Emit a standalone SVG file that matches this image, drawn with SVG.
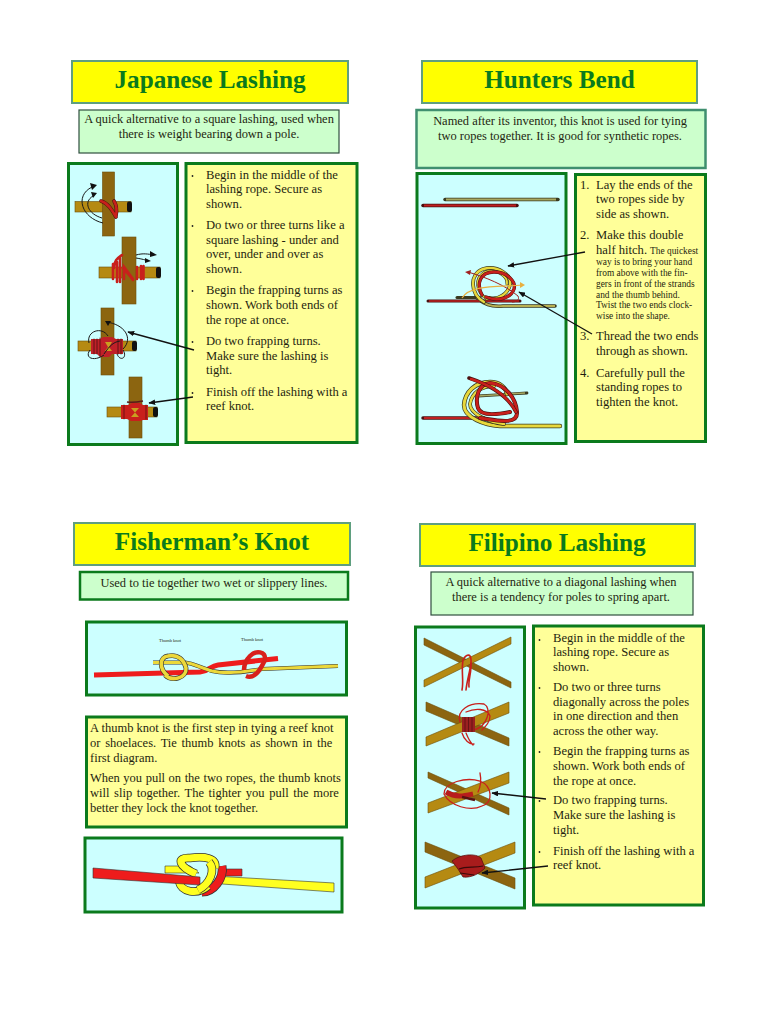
<svg xmlns="http://www.w3.org/2000/svg" width="768" height="1024" viewBox="0 0 768 1024">
<style>
text{font-family:"Liberation Serif","Times New Roman",serif;fill:#1f1f10}
.t{font-size:25.200px;font-weight:bold;fill:#0a7a1e;text-anchor:middle}
.b{font-size:12.600px}
.j{font-size:12.500px}
.s{font-size:9.400px}
.c{font-size:12.450px;text-anchor:middle}
.ttl{fill:#ffff00;stroke:#5f9f7f;stroke-width:2}
.note{fill:#ccffcc;stroke:#2f4f3f;stroke-width:1.2}
.pic{fill:#ccffff;stroke:#0b7a1c;stroke-width:3}
.txt{fill:#ffff99;stroke:#0b7a1c;stroke-width:3}
.pole{fill:#b58a12;stroke:#6b4e0a;stroke-width:.6}
.poled{fill:#8c6510;stroke:#6b4e0a;stroke-width:.6}
.end{fill:#111}
.dot{fill:#222}
.r{fill:none;stroke:#c8201c;stroke-linecap:round}
.ro{fill:none;stroke:#4a1010;stroke-linecap:round}
.y{fill:none;stroke:#e8d83c;stroke-linecap:round}
.yo{fill:none;stroke:#3a3a20;stroke-linecap:round}
.yb{fill:none;stroke:#ffff20}
.rb{fill:none;stroke:#ee1c1c}
.lo{fill:none;stroke:#333}
.k{fill:none;stroke:#1a1a1a;stroke-width:1}
.a{fill:none;stroke:#111;stroke-width:1.3;marker-end:url(#ah)}
</style>
<defs>
<marker id="ah" viewBox="0 0 10 8" refX="9" refY="4" markerWidth="7" markerHeight="5.5" orient="auto-start-reverse" markerUnits="userSpaceOnUse"><path d="M0 0L10 4L0 8Z" fill="#111"/></marker>
</defs>
<rect width="768" height="1024" fill="#fff"/>

<g id="japanese-lashing">
<rect class="ttl" x="72" y="61" width="276" height="42"/>
<text class="t" x="210" y="87.700">Japanese Lashing</text>
<rect class="note" x="79" y="110" width="260" height="43"/>
<text class="c" x="209" y="123">A quick alternative to a square lashing, used when</text>
<text class="c" x="209" y="138">there is weight bearing down a pole.</text>
<rect class="pic" x="68.500" y="163.500" width="109" height="281"/>
<rect class="txt" x="186" y="163.500" width="171" height="279"/>
<g id="jl-drawing">
<rect class="pole" x="75" y="201.500" width="56" height="10.500"/><rect class="end" x="127" y="201.500" width="5" height="10.500" rx="2"/>
<rect class="poled" x="102.500" y="172" width="12" height="64"/>
<path class="ro" stroke-width="3.600" d="M101 201C108 203 112 210 116 217M114 201C117 206 117 211 116 216"/>
<path class="r" stroke-width="2.600" d="M101 201C108 203 112 210 116 217M114 201C117 206 117 211 116 216"/>
<path class="k" d="M103 223C82 218 74 196 92 187M102 218C88 214 83 202 93 196"/>
<path d="M90 183l7 2-5 5zM91 192l6 1-4 5z" fill="#111"/>
<rect class="pole" x="99" y="267" width="61" height="11"/><rect class="end" x="156" y="267" width="5" height="11" rx="2"/>
<rect class="poled" x="122" y="237" width="14" height="67"/>
<path class="r" stroke-width="2.600" d="M114 268C114 260 118 258 122 255M113 264V279M117 262V282M120 258V282M123 268C126 272 130 275 133 280M124 279V267L133 279M137 267V279M141 266V279M143.500 266V279"/>
<path class="k" d="M136 255C143 253 148 254 154 255M136 258C142 259 146 260 148 261"/>
<path d="M150 251l7 4-7 2zM145 258l6 3-6 2z" fill="#111"/>
<rect class="pole" x="78" y="341" width="58" height="10"/><rect class="end" x="132" y="341" width="5" height="10" rx="2"/>
<rect class="poled" x="101" y="308" width="13" height="67"/>
<path d="M91 339H100L103 337H112L116 339H123V354H112L109 357H100L97 354H91Z" fill="#c02028"/>
<path d="M105 342L112 342 109 347 112 351 105 351 108 347Z" fill="#c9a020"/>
<path class="ro" stroke-width=".8" d="M94 339V354M97 339V354M100 338V356M118 339V354M121 339V354"/>
<path class="k" d="M89 343C86 331 102 326 108 336M106 322C124 324 134 338 123 349M117 354C120 362 128 358 123 350M90 350C84 358 94 362 104 355M104 354C110 345 114 342 120 341"/>
<path d="M105 321l6 0-3 5z" fill="#111"/>
<rect class="pole" x="107" y="407" width="50" height="10"/><rect class="end" x="153" y="407" width="5" height="10" rx="2"/>
<rect class="poled" x="129" y="377" width="13" height="61"/>
<path d="M121 405H128L132 403H140L143 405H148V420H143L140 421H131L127 419H121Z" fill="#c8201c"/>
<path d="M131 408H139L135 412.500ZM131 417H139L135 412.500Z" fill="#c9a020"/>
<path class="ro" stroke-width=".7" d="M124 405V419M146 405V419"/>
<path d="M127 402C133 403 138 402 143 401" fill="none" stroke="#5a1a1a" stroke-width="1.500"/>
</g>
<g id="jl-connectors">
<path class="a" d="M194 350L128 332"/>
<path class="a" d="M193 397L149 403"/>
</g>
<circle class="dot" cx="192.500" cy="176" r=".9"/><circle class="dot" cx="192.500" cy="226" r=".9"/><circle class="dot" cx="192.500" cy="291" r=".9"/><circle class="dot" cx="192.500" cy="342" r=".9"/><circle class="dot" cx="192.500" cy="393" r=".9"/>
<g class="b">
<text x="206" y="179">Begin in the middle of the</text>
<text x="206" y="193">lashing rope. Secure as</text>
<text x="206" y="208">shown.</text>
<text x="206" y="229">Do two or three turns like a</text>
<text x="206" y="244">square lashing - under and</text>
<text x="206" y="258">over, under and over as</text>
<text x="206" y="273">shown.</text>
<text x="206" y="294">Begin the frapping turns as</text>
<text x="206" y="309">shown. Work both ends of</text>
<text x="206" y="324">the rope at once.</text>
<text x="206" y="345">Do two frapping turns.</text>
<text x="206" y="360">Make sure the lashing is</text>
<text x="206" y="374">tight.</text>
<text x="206" y="396">Finish off the lashing with a</text>
<text x="206" y="410">reef knot.</text>
</g>
</g>

<g id="hunters-bend">
<rect class="ttl" x="422" y="61" width="275" height="42"/>
<text class="t" x="559.500" y="87.700">Hunters Bend</text>
<rect x="416.500" y="110" width="289" height="58" fill="#ccffcc" stroke="#3f8f6f" stroke-width="2.500"/>
<text class="c" x="560" y="125">Named after its inventor, this knot is used for tying</text>
<text class="c" x="560" y="140">two ropes together. It is good for synthetic ropes.</text>
<rect class="pic" x="417" y="173.500" width="149" height="270"/>
<rect class="txt" x="575.500" y="174.500" width="130" height="267"/>
<g id="hb-drawing">
<path d="M445 199.500H558" class="yo" stroke-width="3.500"/><path d="M446 199.500H556" stroke="#a8a860" stroke-width="1.800"/>
<path d="M423 205.500H517" class="ro" stroke-width="3.500"/><path d="M424 205.500H516" stroke="#c02020" stroke-width="1.800"/>
<path d="M457 297.500H480" class="yo" stroke-width="3"/>
<path d="M477 298C484 304 490 307 503 306H555" class="yo" stroke-width="3.600"/>
<path d="M477 298C484 304 490 307 503 306H555" fill="none" stroke="#b8b050" stroke-width="2"/>
<path d="M428 301H520" class="ro" stroke-width="3"/><path d="M429 301H519" stroke="#c02020" stroke-width="1.600"/>
<g id="hb-mid-ring">
<path class="yo" stroke-width="3.800" d="M484 302C470 294 469 274 483 269C498 265 512 275 510 285C508 294 498 300 490 298"/>
<path class="y" stroke-width="2.400" d="M484 302C470 294 469 274 483 269C498 265 512 275 510 285C508 294 498 300 490 298"/>
<path class="yo" stroke-width="3" d="M487 299C476 292 474 278 485 272C496 268 508 276 507 284"/>
<path class="y" stroke-width="1.800" d="M487 299C476 292 474 278 485 272C496 268 508 276 507 284"/>
<path class="ro" stroke-width="3.400" d="M482 295C476 284 480 272 494 272C508 272 516 282 514 289C511 298 498 302 486 297"/>
<path class="r" stroke-width="2.400" d="M482 295C476 284 480 272 494 272C508 272 516 282 514 289C511 298 498 302 486 297"/>
</g>
<path d="M468 272C485 277 505 285 518 296C520 300 516 302 512 302" fill="none" stroke="#a02020" stroke-width="1"/><path d="M465 272l6-2-1 5z" fill="#a02020"/>
<path d="M462 298C470 285 495 287 522 285" fill="none" stroke="#e8b040" stroke-width="1.200"/><path d="M525 285l-5-3 0 6z" fill="#e8b040"/>
<path d="M423 418H484" class="ro" stroke-width="3.500"/><path d="M424 418H484" stroke="#c02020" stroke-width="2"/>
<path d="M478 396L527 393" class="yo" stroke-width="2.800"/><path d="M478 396L525 393" stroke="#a8a860" stroke-width="1.500"/>
<g id="hb-low-ring">
<path class="yo" stroke-width="4.400" d="M560 426H500C485 425 464 418 464 405C465 392 475 382 490 382C500 382 506 388 507 394"/>
<path class="y" stroke-width="3" d="M560 426H500C485 425 464 418 464 405C465 392 475 382 490 382C500 382 506 388 507 394"/>
<path class="yo" stroke-width="3.800" d="M504 424C488 422 470 414 470 404C472 392 482 386 494 386"/>
<path class="y" stroke-width="2.400" d="M504 424C488 422 470 414 470 404C472 392 482 386 494 386"/>
<path class="ro" stroke-width="4" d="M480 418C495 420 518 426 517 412C516 398 505 384 490 383C478 384 475 398 478 408C480 414 490 416 510 412"/>
<path class="r" stroke-width="2.800" d="M480 418C495 420 518 426 517 412C516 398 505 384 490 383C478 384 475 398 478 408C480 414 490 416 510 412"/>
<path class="ro" stroke-width="3.600" d="M469 378C490 385 508 396 516 412"/>
<path class="r" stroke-width="2.400" d="M471 379C490 385 508 396 516 412"/>
</g>
</g>
<g id="hb-connectors">
<path class="a" d="M585 252L508 266"/>
<path class="a" d="M592 334L519 292"/>
</g>
<g class="b">
<text x="580" y="189">1.</text><text x="596" y="189">Lay the ends of the</text>
<text x="596" y="203">two ropes side by</text>
<text x="596" y="218">side as shown.</text>
<text x="580" y="239">2.</text><text x="596" y="239">Make this double</text>
<text x="596" y="254">half hitch.<tspan class="s" dx="3">The quickest</tspan></text>
<g class="s">
<text x="596" y="265">way is to bring your hand</text>
<text x="596" y="276">from above with the fin-</text>
<text x="596" y="287">gers in front of the strands</text>
<text x="596" y="298">and the thumb behind.</text>
<text x="596" y="308">Twist the two ends clock-</text>
<text x="596" y="319">wise into the shape.</text>
</g>
<text x="580" y="340">3.</text><text x="596" y="340">Thread the two ends</text>
<text x="596" y="355">through as shown.</text>
<text x="580" y="377">4.</text><text x="596" y="377">Carefully pull the</text>
<text x="596" y="391">standing ropes to</text>
<text x="596" y="406">tighten the knot.</text>
</g>
</g>

<g id="fishermans-knot">
<rect class="ttl" x="74" y="523" width="276" height="42"/>
<text class="t" x="212" y="549.700">Fisherman’s Knot</text>
<rect x="80" y="572" width="268" height="27.500" fill="#ccffcc" stroke="#0b7a1c" stroke-width="2.500"/>
<text class="c" x="214" y="587">Used to tie together two wet or slippery lines.</text>
<rect class="pic" x="86.500" y="622" width="260" height="73"/>
<g id="fk-top-drawing">
<text x="170" y="642" font-size="4.500" text-anchor="middle">Thumb knot</text>
<text x="252" y="641" font-size="4.500" text-anchor="middle">Thumb knot</text>
<path d="M94 675L200 672C210 671 210 666 218 665L278 658.500" class="rb" stroke-width="5"/>
<path d="M153 662.500H185C192 663 202 668 212 671C225 674 245 672 262 669L338 666" class="lo" stroke-width="4.200"/>
<path d="M153 662.500H185C192 663 202 668 212 671C225 674 245 672 262 669L338 666" fill="none" stroke="#ecd83a" stroke-width="3.200"/>
<path d="M168 676C158 668 160 657 168 656C178 654 184 660 186 668C187 678 172 682 165 675" class="lo" stroke-width="4.800"/>
<path d="M168 676C158 668 160 657 168 656C178 654 184 660 186 668C187 678 172 682 165 675" fill="none" stroke="#ecd83a" stroke-width="3.600"/>
<path d="M246 676C256 680 262 666 265 660C266 651 256 650 250 656C246 660 244 666 244 670" fill="none" stroke="#d8201c" stroke-width="4.500"/>
</g>
<rect class="txt" x="86.500" y="717" width="260" height="110" stroke-width="2.500"/>
<g class="j">
<text x="90" y="732">A thumb knot is the first step in tying a reef knot</text>
<text x="90" y="747" word-spacing="1.600">or shoelaces.  Tie thumb knots as shown in the</text>
<text x="90" y="762">first diagram.</text>
<text x="90" y="782" word-spacing=".4">When you pull on the two ropes, the thumb knots</text>
<text x="90" y="797" word-spacing="1.500">will slip together. The tighter you pull the more</text>
<text x="90" y="812">better they lock the knot together.</text>
</g>
<rect class="pic" x="85" y="838" width="257" height="74"/>
<g id="fk-bottom-drawing">
<polygon points="222,869 242,869 242,876 222,876" fill="#ee1c1c" stroke="#333" stroke-width=".6"/>
<polygon points="222,876.500 334,883 334,892 222,884" fill="#ffff20" stroke="#333" stroke-width=".6"/>
<path class="lo" stroke-width="9" d="M202 892C214 892 224 878 222 866"/>
<path class="rb" stroke-width="7.500" d="M202 892C214 892 224 878 222 866"/>
<polygon points="165,866 190,866 199,873 165,873" fill="#ffff20" stroke="#333" stroke-width=".6"/>
<path class="lo" stroke-width="8.500" d="M196 874C178 866 176 857 190 858C205 856 217 858 215 868"/>
<path class="yb" stroke-width="7" d="M196 874C178 866 176 857 190 858C205 856 217 858 215 868"/>
<path class="lo" stroke-width="8.500" d="M179 880C180 893 198 895 208 886"/>
<path class="yb" stroke-width="7" d="M179 880C180 893 198 895 208 886"/>
<polygon points="93,868 200,877 200,885 93,878" fill="#ee1c1c" stroke="#333" stroke-width=".6"/>
<path class="lo" stroke-width="8.500" d="M209 862C216 870 210 884 198 890"/>
<path class="yb" stroke-width="7" d="M209 862C216 870 210 884 198 890"/>
</g>
</g>

<g id="filipino-lashing">
<rect class="ttl" x="420" y="524" width="275" height="42"/>
<text class="t" x="557" y="550.700">Filipino Lashing</text>
<rect class="note" x="431" y="572" width="262" height="43"/>
<text class="c" x="561" y="586">A quick alternative to a diagonal lashing when</text>
<text class="c" x="561" y="601">there is a tendency for poles to spring apart.</text>
<rect class="pic" x="415.500" y="627" width="109" height="281"/>
<rect class="txt" x="533.500" y="626" width="170" height="279"/>
<g id="fl-drawing">
<polygon points="424,638 511,682 511,688 424,645" class="poled"/>
<polygon points="424,680 511,637 511,644 424,687" class="pole"/>
<path class="r" stroke-width="1.600" d="M462 690C464 680 461 672 463 660C466 654 471 653 471 660C472 672 468 680 469 687M466 690C467 680 470 672 471 662"/>
<polygon points="426,702 509,738 509,746 426,711" class="poled"/>
<polygon points="426,737 509,702 509,713 426,746" class="pole"/>
<path class="r" stroke-width="1.300" d="M460 722C456 710 470 702 484 704C492 708 488 726 474 730M466 712C475 708 487 708 490 716C490 722 486 726 482 730M462 733C464 740 470 745 474 744M466 733C468 738 470 742 473 745"/>
<rect x="462" y="717" width="13" height="15" fill="#9a2020"/><path d="M465 717v15M468.500 717v15M472 717v15" stroke="#501010" stroke-width=".7"/>
<polygon points="428,772 509,808 509,815 428,778" class="poled"/>
<polygon points="428,803 509,772 509,783 428,813" class="pole"/>
<path class="r" stroke-width="1.300" d="M444 794C444 782 466 777 480 781C492 786 494 802 482 806C470 812 450 806 444 794ZM480 773C482 783 480 788 478 792"/>
<path d="M446 792C456 798 464 796 473 794" fill="none" stroke="#b81c1c" stroke-width="5"/>
<path d="M462 797L475 800" stroke="#5a1010" stroke-width="2.500"/>
<polygon points="425,842 515,878 515,889 425,852" class="poled"/>
<polygon points="425,877 515,842 515,853 425,888" class="pole"/>
<path d="M452 861C460 854 476 853 481 858L485 868C480 873 472 878 463 877L458 869Z" fill="#a81c1c" stroke="#5a1010" stroke-width=".8"/>
<path d="M459 869C466 866 474 868 483 866M460 873L474 875" fill="none" stroke="#3a0a0a" stroke-width="1.200"/>
</g>
<g id="fl-connectors">
<path class="a" d="M546 799L492 793"/>
<path class="a" d="M548 866L482 873"/>
</g>
<circle class="dot" cx="539.500" cy="640" r=".9"/><circle class="dot" cx="539.500" cy="688" r=".9"/><circle class="dot" cx="539.500" cy="752" r=".9"/><circle class="dot" cx="539.500" cy="801" r=".9"/><circle class="dot" cx="539.500" cy="852" r=".9"/>
<g class="b">
<text x="553" y="642">Begin in the middle of the</text>
<text x="553" y="656">lashing rope. Secure as</text>
<text x="553" y="671">shown.</text>
<text x="553" y="691">Do two or three turns</text>
<text x="553" y="706">diagonally across the poles</text>
<text x="553" y="720">in one direction and then</text>
<text x="553" y="735">across the other way.</text>
<text x="553" y="755">Begin the frapping turns as</text>
<text x="553" y="770">shown. Work both ends of</text>
<text x="553" y="785">the rope at once.</text>
<text x="553" y="804">Do two frapping turns.</text>
<text x="553" y="819">Make sure the lashing is</text>
<text x="553" y="834">tight.</text>
<text x="553" y="855">Finish off the lashing with a</text>
<text x="553" y="869">reef knot.</text>
</g>
</g>
</svg>
